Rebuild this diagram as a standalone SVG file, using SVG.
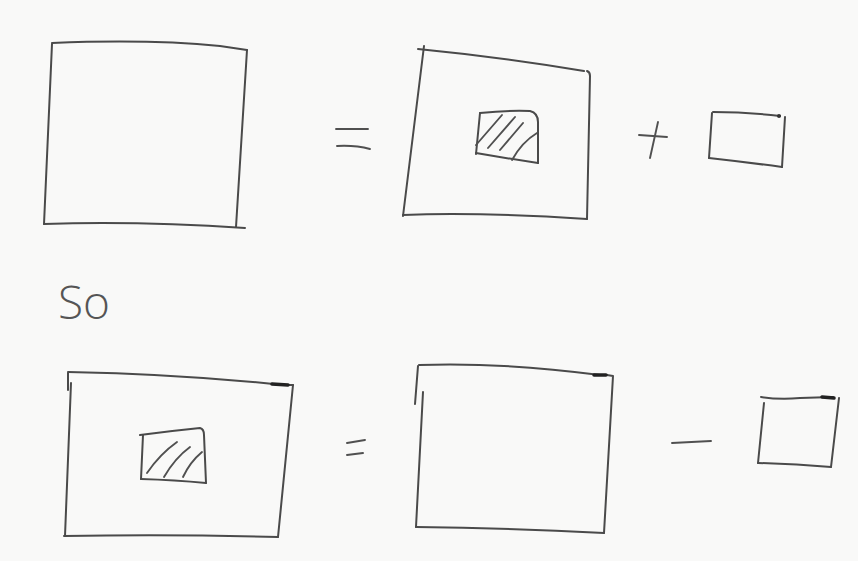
<svg xmlns="http://www.w3.org/2000/svg" width="858" height="561" viewBox="0 0 858 561">
  <style>
    .ink { fill: none; stroke: #4a4a4a; stroke-width: 2; stroke-linecap: round; stroke-linejoin: round; }
    .thin { fill: none; stroke: #505050; stroke-width: 1.9; stroke-linecap: round; }
    .label { font-family: "Open Sans", "Liberation Sans", sans-serif; font-weight: 300; fill: #555; }
  </style>
  <rect x="0" y="0" width="858" height="561" fill="#f9f9f8"/>

  <!-- Row 1 -->
  <g id="bigSquare">
    <path class="ink" d="M52 43 Q150 39 220 46 L247 50"/>
    <path class="ink" d="M247 50 L236 227"/>
    <path class="ink" d="M44 224 Q140 221 245 228"/>
    <path class="ink" d="M52 44 L44 224"/>
  </g>
  <g id="equals1">
    <path class="thin" d="M336 129 L368 129"/>
    <path class="thin" d="M337 146 Q355 145 370 149"/>
  </g>
  <g id="frameWithHole">
    <path class="ink" d="M418 49 Q500 57 584 71"/>
    <path class="ink" d="M424 46 L403 216"/>
    <path class="ink" d="M587 71 Q590 72 590 76 L587 219"/>
    <path class="ink" d="M403 215 Q480 212 587 219"/>
    <g id="hole1">
      <path class="ink" d="M480 113 Q510 110 530 111 Q538 113 538 122 L538 163"/>
      <path class="ink" d="M480 113 L476 154"/>
      <path class="ink" d="M476 153 Q505 158 538 163"/>
      <path class="thin" d="M476 145 L502 115"/>
      <path class="thin" d="M488 148 L515 117"/>
      <path class="thin" d="M500 150 L523 123"/>
      <path class="thin" d="M512 160 Q522 142 537 133"/>
    </g>
  </g>
  <g id="plus">
    <path class="thin" d="M639 135 L667 137"/>
    <path class="thin" d="M658 122 L650 158"/>
  </g>
  <g id="smallRect1">
    <path class="ink" d="M713 112 Q745 112 780 116"/>
    <path class="ink" d="M785 117 L782 167"/>
    <path class="ink" d="M709 158 Q745 162 782 167"/>
    <path class="ink" d="M712 113 L709 158"/>
    <circle cx="779" cy="116" r="2" fill="#333"/>
  </g>

  <!-- So -->
  <text id="so" class="label" x="58" y="319" font-size="46">So</text>

  <!-- Row 2 -->
  <g id="frameWithHole2">
    <path class="ink" d="M68 372 Q180 374 283 385 L293 385"/>
    <path class="ink" d="M68 373 L68 390"/>
    <path class="ink" d="M293 385 L278 537"/>
    <path class="ink" d="M64 536 Q170 534 278 537"/>
    <path class="ink" d="M71 383 L65 536"/>
    <path d="M272 384 L288 385" stroke="#222" stroke-width="3.5" stroke-linecap="round"/>
    <g id="hole2">
      <path class="ink" d="M140 435 Q170 431 200 428 Q204 429 204 435 L206 483"/>
      <path class="ink" d="M143 435 L141 479"/>
      <path class="ink" d="M141 479 Q175 480 206 483"/>
      <path class="thin" d="M147 473 Q160 454 177 442"/>
      <path class="thin" d="M164 477 Q175 458 190 447"/>
      <path class="thin" d="M183 477 Q190 462 202 452"/>
    </g>
  </g>
  <g id="equals2">
    <path class="thin" d="M347 443 L365 440"/>
    <path class="thin" d="M347 455 L363 453"/>
  </g>
  <g id="bigRect">
    <path class="ink" d="M419 365 Q500 362 600 375 L607 375"/>
    <path class="ink" d="M418 366 L415 404"/>
    <path class="ink" d="M423 392 L416 527"/>
    <path class="ink" d="M607 375 L613 376 L604 533"/>
    <path class="ink" d="M416 527 Q510 528 604 533"/>
    <path d="M594 375 L606 375" stroke="#222" stroke-width="3.5" stroke-linecap="round"/>
  </g>
  <g id="minus">
    <path class="thin" d="M672 443 Q690 442 711 441"/>
  </g>
  <g id="smallRect2">
    <path class="ink" d="M761 397 Q780 400 800 398 L833 397"/>
    <path class="ink" d="M839 398 L831 467"/>
    <path class="ink" d="M758 463 Q795 464 831 467"/>
    <path class="ink" d="M764 403 L758 463"/>
    <path d="M822 397 L834 398" stroke="#222" stroke-width="3.5" stroke-linecap="round"/>
  </g>
</svg>
